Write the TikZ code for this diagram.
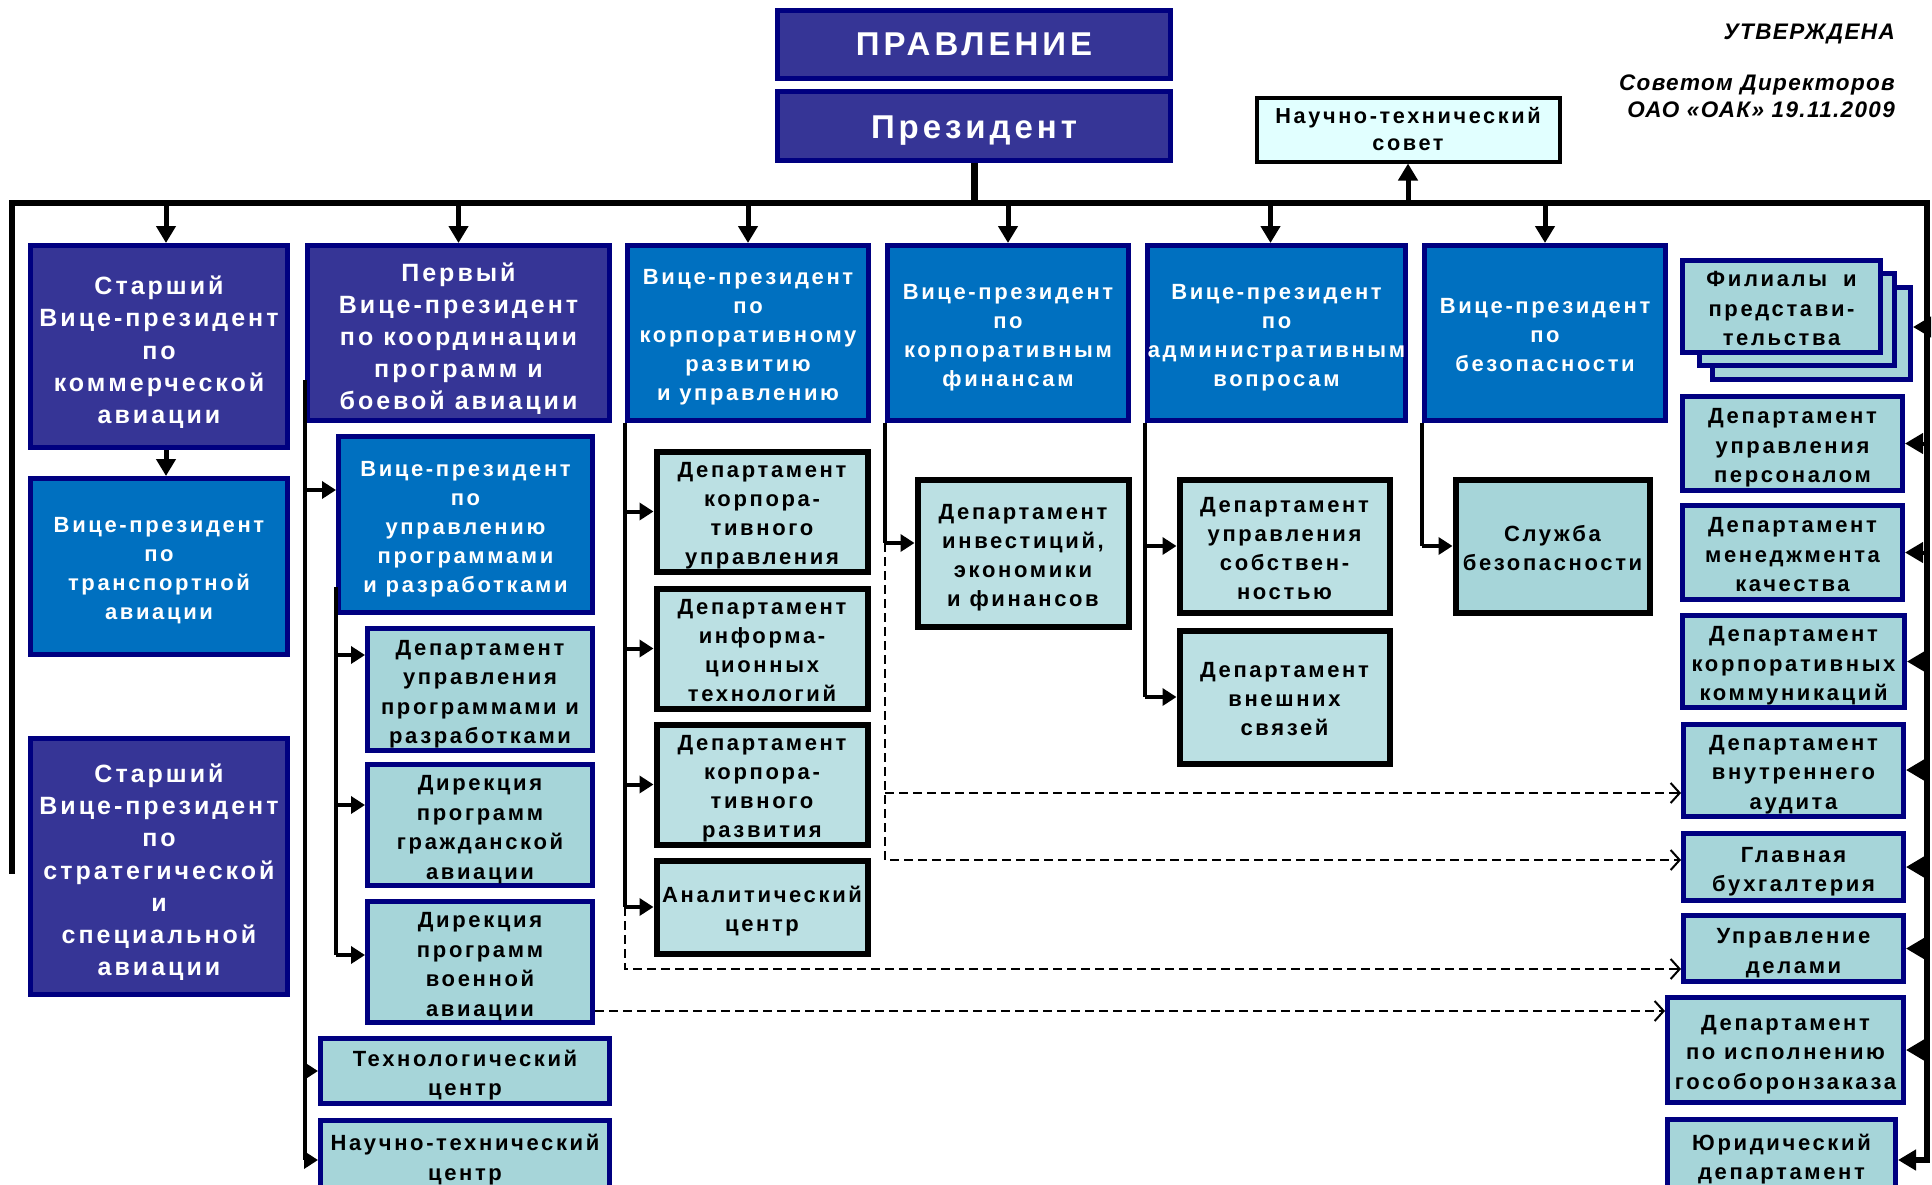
\documentclass[tikz,border=0pt]{standalone}
\usepackage{fontspec}
\setmainfont{Liberation Sans}
\newfontfamily\fa{Liberation Sans}[LetterSpace=12]
\newfontfamily\fc{Liberation Sans}[LetterSpace=6]
\usetikzlibrary{arrows.meta}
\definecolor{purp}{RGB}{54,53,150}
\definecolor{navy}{RGB}{0,0,128}
\definecolor{vblue}{RGB}{0,112,192}
\definecolor{tealA}{RGB}{166,213,217}
\definecolor{tealB}{RGB}{187,224,227}
\definecolor{ntsov}{RGB}{225,255,255}
\def\mylowr{}
\def\mybot{}
\newcommand\mybox[7]{%
  \node[#6, minimum width={(#4)-(#2)-5}, minimum height={(#5)-(#3)-5}] (#1) at ({((#2)+(#4))/2},{((#3)+(#5))/2}) {\mylowr#7\mybot};}
\tikzset{
  base/.style={inner sep=0pt, align=center, line width=5pt},
  lower/.code={\def\mylowr{\rule{0pt}{#1}}},
  botd/.code={\def\mybot{\rule[-#1]{0pt}{0pt}}},
  topbox/.style={base, draw=navy, fill=purp, text=white, font=\fa\bfseries\fontsize{33}{40}\selectfont},
  purpbox/.style={base, lower=1.2em, draw=navy, fill=purp, text=white, font=\fa\bfseries\fontsize{25}{32.2}\selectfont},
  bluebox/.style={base, lower=1.2em, botd=0.3em, draw=navy, fill=vblue, text=white, font=\fa\bfseries\fontsize{22}{29}\selectfont},
  navbox/.style={base, lower=1.2em, botd=0.3em, draw=navy, fill=tealA, text=black, font=\fa\bfseries\fontsize{22}{29.5}\selectfont},
  blkbox/.style={base, lower=1.2em, botd=0.3em, draw=black, line width=6pt, fill=tealB, text=black, font=\fa\bfseries\fontsize{22}{29}\selectfont},
  sbbox/.style={blkbox, fill=tealA},
  ntsbox/.style={base, draw=black, line width=4pt, fill=ntsov, text=black, font=\fa\bfseries\fontsize{21.7}{27}\selectfont},
  apprtext/.style={inner sep=0pt, anchor=base east, font=\fc\bfseries\itshape\fontsize{22.5}{25}\selectfont},
  busline/.style={line width=6pt, line cap=rect, line join=miter},
  vline/.style={line width=4pt},
  toparr/.style={line width=5pt, -{Triangle[length=17pt,width=19pt]}},
  sarr/.style={line width=4pt, -{Triangle[length=14pt,width=17pt]}},
  rarr/.style={line width=4pt, -{Triangle[length=18pt,width=20pt]}},
  dashl/.style={line width=2.5pt, dash pattern=on 9pt off 5pt},
  dasharr/.style={dashl, -{Straight Barb[length=9pt,width=20pt,line width=2pt]}},
}
\begin{document}
\begin{tikzpicture}[x=1pt,y=-1pt]
\useasboundingbox (0,0) rectangle (1932,1184);
\clip (0,0) rectangle (1932,1184);
\fill[white] (0,0) rectangle (1932,1184);

% top
\mybox{prav}{775}{8}{1173}{81}{topbox}{ПРАВЛЕНИЕ}
\mybox{pres}{775}{89}{1173}{163}{topbox, lower=0.95em}{Президент}
\mybox{nts}{1254}{95}{1562}{164}{ntsbox}{Научно-технический\\совет}
\node[apprtext] (utv) at (1895,39) {УТВЕРЖДЕНА};
\node[apprtext] (sov) at (1895,90) {Советом Директоров};
\node[apprtext] (oao) at (1895,117) {ОАО «ОАК» 19.11.2009};

% first row
\mybox{b1}{28}{243}{290}{450}{purpbox}{Старший\\Вице-президент\\по\\коммерческой\\авиации}
\mybox{b2}{305}{243}{612}{423}{purpbox}{Первый\\Вице-президент\\по координации\\программ и\\боевой авиации}
\mybox{b3}{625}{243}{871}{423}{bluebox}{Вице-президент\\по\\корпоративному\\развитию\\и управлению}
\mybox{b4}{885}{243}{1131}{423}{bluebox}{Вице-президент\\по\\корпоративным\\финансам}
\mybox{b5}{1146}{243}{1407}{423}{bluebox}{Вице-президент\\по\\административным\\вопросам}
\mybox{b6}{1422}{243}{1668}{423}{bluebox}{Вице-президент\\по\\безопасности}

% column 1
\mybox{trans}{28}{476}{290}{657}{bluebox}{Вице-президент\\по\\транспортной\\авиации}
\mybox{strat}{28}{736}{290}{997}{purpbox}{Старший\\Вице-президент\\по\\стратегической\\и\\специальной\\авиации}

% column 2
\mybox{vpup}{336}{434}{595}{615}{bluebox}{Вице-президент\\по\\управлению\\программами\\и разработками}
\mybox{dupr}{365}{628}{595}{751}{navbox}{Департамент\\управления\\программами и\\разработками}
\mybox{dciv}{365}{763}{595}{887}{navbox}{Дирекция\\программ\\гражданской\\авиации}
\mybox{dmil}{365}{900}{595}{1024}{navbox}{Дирекция\\программ\\военной\\авиации}
\mybox{tech}{318}{1036}{612}{1106}{navbox}{Технологический\\центр}
\mybox{ntc}{318}{1118}{612}{1193}{navbox}{Научно-технический\\центр}

% column 3
\mybox{dku}{654}{449}{870}{574}{blkbox}{Департамент\\корпора-\\тивного\\управления}
\mybox{dit}{654}{586}{870}{711}{blkbox}{Департамент\\информа-\\ционных\\технологий}
\mybox{dkr}{654}{722}{870}{847}{blkbox}{Департамент\\корпора-\\тивного\\развития}
\mybox{ac}{654}{858}{870}{956}{blkbox}{Аналитический\\центр}

% column 4-6
\mybox{inv}{915}{477}{1131}{629}{blkbox}{Департамент\\инвестиций,\\экономики\\и финансов}
\mybox{dus}{1177}{477}{1392}{615}{blkbox}{Департамент\\управления\\собствен-\\ностью}
\mybox{dvs}{1177}{628}{1392}{766}{blkbox}{Департамент\\внешних\\связей}
\mybox{sb}{1453}{477}{1652}{615}{sbbox}{Служба\\безопасности}

% right column
\mybox{fil3}{1710}{285}{1913}{382}{navbox}{}
\mybox{fil2}{1697}{271}{1897}{368}{navbox}{}
\mybox{fil}{1680}{258}{1883}{355}{navbox}{Филиалы\hspace{16pt}и\\представи-\\тельства}
\mybox{dpers}{1680}{394}{1905}{493}{navbox}{Департамент\\управления\\персоналом}
\mybox{dmk}{1680}{503}{1905}{602}{navbox}{Департамент\\менеджмента\\качества}
\mybox{dkk}{1680}{613}{1907}{710}{navbox}{Департамент\\корпоративных\\коммуникаций}
\mybox{dva}{1681}{722}{1906}{818}{navbox}{Департамент\\внутреннего\\аудита}
\mybox{gb}{1681}{831}{1906}{903}{navbox}{Главная\\бухгалтерия}
\mybox{ud}{1681}{913}{1906}{984}{navbox}{Управление\\делами}
\mybox{goz}{1665}{995}{1906}{1105}{navbox}{Департамент\\по исполнению\\гособоронзаказа}
\mybox{jur}{1665}{1117}{1898}{1193}{navbox}{Юридический\\департамент}

% bus
\coordinate (busL) at (12,203);
\coordinate (busR) at (1927,203);
\coordinate (leftEnd) at (12,871);
\draw[busline] (leftEnd) -- (busL) -- (busR);
\draw[line width=7pt] (pres.south) -- (pres.south |- busL);
\draw[busline, -{Triangle[length=18pt,width=20pt]}] (busR) -- (busR |- 0,1160) -- (jur.east |- 0,1160);
\draw[toparr] (nts.south |- busL) -- (nts.south);
\foreach \n in {b2,b3,b4,b6} \draw[toparr] (\n.north |- busL) -- (\n.north);
\draw[toparr] ([xshift=7pt]b1.north |- busL) -- ([xshift=7pt]b1.north);
\draw[toparr] ([xshift=-6pt]b5.north |- busL) -- ([xshift=-6pt]b5.north);
\draw[toparr] ([xshift=7pt]b1.south) -- ([xshift=7pt]trans.north);

% right side arrows
\draw[rarr] (busR |- 0,327) -- (fil3.east |- 0,327);
\foreach \n in {dpers,dmk,dkk,dva,gb,ud,goz} \draw[rarr] (busR |- \n.east) -- (\n.east);

% column 2 connectors
\draw[vline] (b2.south west |- 0,380) -- (b2.south west |- 0,1160);
\draw[sarr] (b2.south west |- 0,490) -- (vpup.west |- 0,490);
\draw[sarr] (b2.south west |- tech.west) -- (tech.west);
\draw[sarr] (b2.south west |- 0,1160) -- (ntc.west |- 0,1160);
\draw[vline] (vpup.south west |- 0,587) -- (vpup.south west |- 0,955);
\draw[sarr] (vpup.south west |- 0,655) -- (dupr.west |- 0,655);
\draw[sarr] (vpup.south west |- 0,805) -- (dciv.west |- 0,805);
\draw[sarr] (vpup.south west |- 0,955) -- (dmil.west |- 0,955);

% column 3 connectors
\draw[vline] (b3.south west) -- (b3.south west |- ac.west);
\foreach \n in {dku,dit,dkr,ac} \draw[sarr] (b3.south west |- \n.west) -- (\n.west);

% columns 4-6
\draw[vline] (b4.south west) -- (b4.south west |- 0,543);
\draw[sarr] (b4.south west |- 0,543) -- (inv.west |- 0,543);
\draw[vline] (b5.south west) -- (b5.south west |- dvs.west);
\draw[sarr] (b5.south west |- dus.west) -- (dus.west);
\draw[sarr] (b5.south west |- dvs.west) -- (dvs.west);
\draw[vline] (b6.south west) -- (b6.south west |- sb.west);
\draw[sarr] (b6.south west |- sb.west) -- (sb.west);

% dashed
\draw[dasharr] (b3.south west |- ac.west) -- (b3.south west |- 0,969) -- (ud.west |- 0,969);
\draw[dasharr] (b4.south west |- 0,543) -- (b4.south west |- 0,860) -- (gb.west |- 0,860);
\draw[dasharr] (b4.south west |- 0,793) -- (dva.west |- 0,793);
\draw[dasharr] (dmil.east |- 0,1011) -- (goz.west |- 0,1011);
\end{tikzpicture}
\end{document}
